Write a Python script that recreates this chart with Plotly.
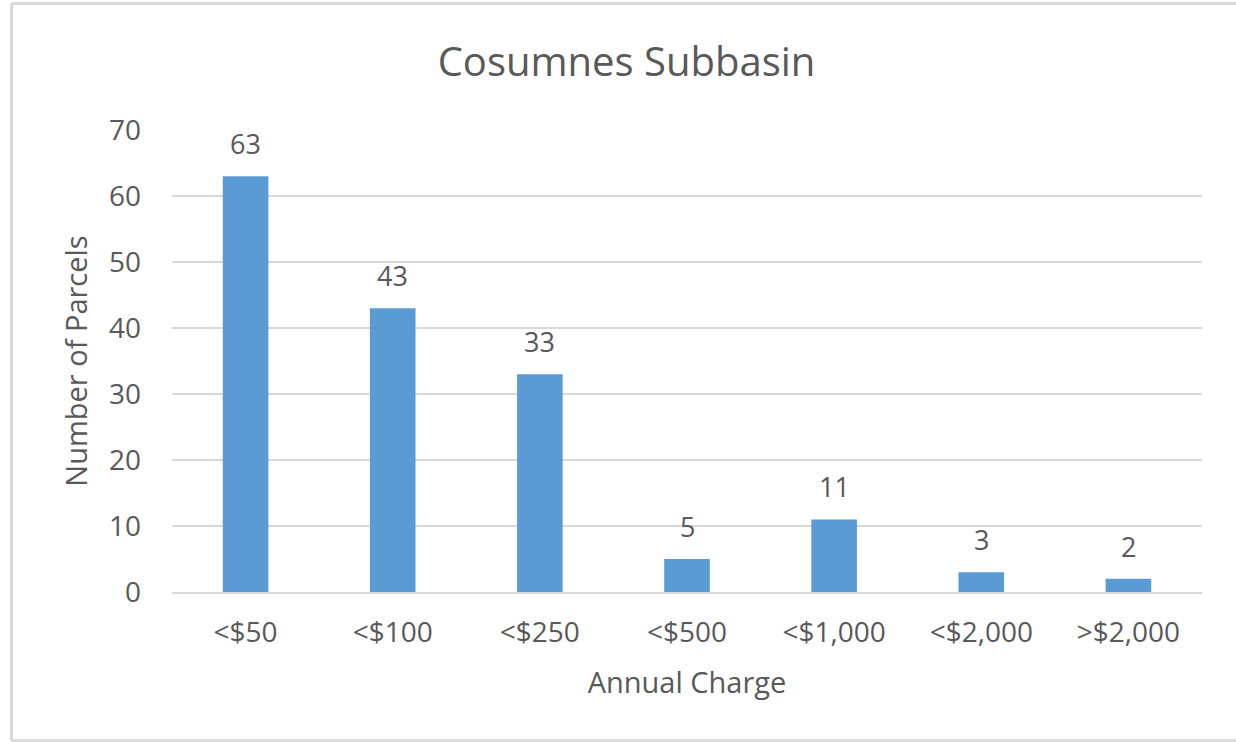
import plotly.graph_objects as go

categories = ["<$50", "<$100", "<$250", "<$500", "<$1,000", "<$2,000", ">$2,000"]
parcels = [63, 43, 33, 5, 11, 3, 2]
y_ticks = [0, 10, 20, 30, 40, 50, 60, 70]

OFF = 0  # page body margin removed via post_script
W, H = 1236 - OFF, 742 - OFF
# plot area in screen pixels
L, R, T, B = 172 - OFF, 1202 - OFF, 130 - OFF, 592 - OFF
FONT = "Open Sans"
TXT = "#595959"
GRID = "#D9D9D9"
BAR = "#5B9BD5"

fig = go.Figure()
fig.add_trace(go.Bar(
    x=categories, y=parcels,
    marker=dict(color=BAR, line=dict(width=0)),
    hoverinfo="x+y",
))

for c, v in zip(categories, parcels):
    fig.add_annotation(
        x=c, y=v, xref="x", yref="y", text=str(v), showarrow=False,
        yanchor="bottom", yshift=12,
        font=dict(family=FONT, size=27, color=TXT),
    )

def px_to_paper_x(px):
    return (px - OFF - L) / (R - L)

def px_to_paper_y(py):
    return (B - (py - OFF)) / (B - T)

# chart frame: left, top and bottom edges (right edge is cut off in the reference)
bx0, bx1 = px_to_paper_x(11.5), px_to_paper_x(1240)
by0, by1 = px_to_paper_y(740.5), px_to_paper_y(3.5)
for x0, y0, x1, y1 in [(bx0, by0, bx0, by1), (bx0, by1, bx1, by1), (bx0, by0, bx1, by0)]:
    fig.add_shape(type="line", xref="paper", yref="paper", x0=x0, y0=y0, x1=x1, y1=y1,
                  line=dict(color=GRID, width=3), layer="below")

fig.update_layout(
    width=W, height=H,
    margin=dict(l=L, r=W - R, t=T, b=H - B, pad=0),
    paper_bgcolor="white", plot_bgcolor="white",
    bargap=0.69,
    showlegend=False,
    font=dict(family=FONT, color=TXT),
    title=dict(
        text="Cosumnes Subbasin", x=(626.5 - OFF) / W, xref="container", xanchor="center",
        y=1 - (62 - OFF) / H, yref="container", yanchor="middle",
        font=dict(family=FONT, size=40, color=TXT),
    ),
    xaxis=dict(
        showgrid=False, showline=True, linecolor=GRID, linewidth=2,
        ticks="", tickfont=dict(family=FONT, size=28, color=TXT),
        ticklabelstandoff=14,
        title=dict(text="Annual Charge", font=dict(family=FONT, size=29, color=TXT), standoff=24),
    ),
    yaxis=dict(
        range=[0, 70], tickvals=y_ticks, showgrid=True, gridcolor=GRID, gridwidth=2,
        zeroline=False, showline=False, ticks="",
        tickfont=dict(family=FONT, size=28, color=TXT),
        ticklabelstandoff=30,
        title=dict(text="Number of Parcels", font=dict(family=FONT, size=29, color=TXT), standoff=12),
    ),
)

fig.write_html(
    "out.html",
    config={"displayModeBar": False},
    post_script="document.body.style.margin='0';document.body.style.overflow='hidden';",
)
